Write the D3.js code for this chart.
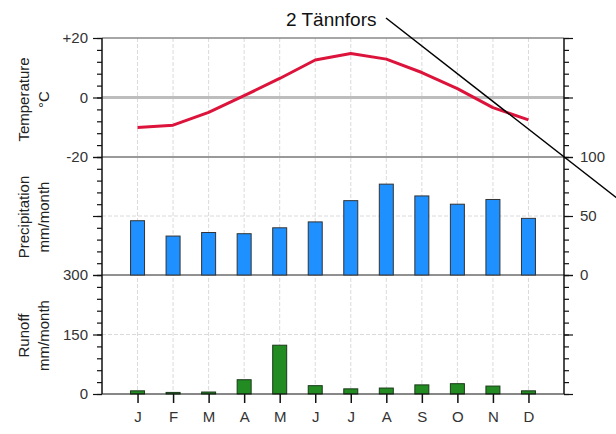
<!DOCTYPE html>
<html>
<head>
<meta charset="utf-8">
<script src="https://d3js.org/d3.v7.min.js"></script>
<style>
  body { margin: 0; background: white; }
  svg { display: block; font-family: Arial, 'Liberation Sans', sans-serif; }
  .tick text { font-size: 15px; fill: #333; }
</style>
</head>
<body>
<svg width="616" height="434"></svg>
<script>
// data
var months = ["J", "F", "M", "A", "M", "J", "J", "A", "S", "O", "N", "D"];
var temperature = [-10.1, -9.3, -5.0, 0.6, 6.4, 12.6, 14.8, 12.9, 8.4, 3.0, -3.4, -7.5];
var precipitation = [46, 33, 36, 35, 40, 45, 63, 77, 67, 60, 64, 48];
var runoff = [8, 4, 5, 36, 123, 21, 13, 15, 23, 26, 20, 8];
var tempTicks = [20, 0, -20];
var precipTicks = [100, 50, 0];
var runoffTicks = [300, 150, 0];

var left = 102, right = 564;
var svg = d3.select("svg");

var x = d3.scalePoint().domain(d3.range(12)).range([left, right]).padding(1);
var yT = d3.scaleLinear().domain([-20, 20]).range([157, 38]);
var yP = d3.scaleLinear().domain([0, 100]).range([275, 157]);
var yR = d3.scaleLinear().domain([0, 300]).range([394, 275]);

// vertical dashed grid
svg.append("g").selectAll("line")
    .data(d3.range(12))
    .enter().append("line")
    .attr("x1", function(d) { return x(d); })
    .attr("x2", function(d) { return x(d); })
    .attr("y1", 38).attr("y2", 394)
    .attr("stroke", "#dadada")
    .attr("stroke-dasharray", "4,2");

// horizontal dashed grid at mid values
[yP(50), yR(150)].forEach(function(yy) {
    svg.append("line")
        .attr("x1", left).attr("x2", right)
        .attr("y1", yy).attr("y2", yy)
        .attr("stroke", "#dadada")
        .attr("stroke-dasharray", "4,2");
});

// 0 degree line
svg.append("line")
    .attr("x1", left).attr("x2", right)
    .attr("y1", yT(0)).attr("y2", yT(0))
    .attr("stroke", "#bdbdbd").attr("stroke-width", 3);

// panel borders
svg.append("line").attr("x1", left).attr("x2", right).attr("y1", yT(20)).attr("y2", yT(20))
    .attr("stroke", "#888").attr("stroke-width", 1.5);
svg.append("line").attr("x1", left).attr("x2", right).attr("y1", yT(-20)).attr("y2", yT(-20))
    .attr("stroke", "#777").attr("stroke-width", 1.5);
svg.append("line").attr("x1", left).attr("x2", right).attr("y1", yP(0)).attr("y2", yP(0))
    .attr("stroke", "#222").attr("stroke-width", 1);

// precipitation bars
var bw = 14;
svg.append("g").selectAll("rect")
    .data(precipitation)
    .enter().append("rect")
    .attr("x", function(d, i) { return x(i) - bw / 2; })
    .attr("y", function(d) { return yP(d); })
    .attr("width", bw)
    .attr("height", function(d) { return yP(0) - yP(d); })
    .attr("fill", "#1e90ff")
    .attr("stroke", "#333").attr("stroke-width", 1);

// runoff bars
svg.append("g").selectAll("rect")
    .data(runoff)
    .enter().append("rect")
    .attr("x", function(d, i) { return x(i) - bw / 2; })
    .attr("y", function(d) { return yR(d); })
    .attr("width", bw)
    .attr("height", function(d) { return yR(0) - yR(d); })
    .attr("fill", "#228b22")
    .attr("stroke", "#1a3a1a").attr("stroke-width", 1);

// temperature line
var line = d3.line()
    .x(function(d, i) { return x(i); })
    .y(function(d) { return yT(d); });
svg.append("path")
    .datum(temperature)
    .attr("d", line)
    .attr("fill", "none")
    .attr("stroke", "#dc143c")
    .attr("stroke-width", 3)
    .attr("stroke-linejoin", "round");

// axes helper: minor ticks, then major ticks with labels
function panelAxis(scale, side, minorStep, majors, showLabels, fmt) {
    var d0 = scale.domain();
    var minors = d3.range(d0[0], d0[1] + minorStep / 2, minorStep);
    var xpos = side == "left" ? left : right;
    var mk = side == "left" ? d3.axisLeft : d3.axisRight;
    var gMinor = svg.append("g")
        .attr("transform", "translate(" + xpos + ",0)")
        .call(mk(scale).tickValues(minors).tickSize(5).tickFormat(""));
    gMinor.select(".domain").remove();
    var gMajor = svg.append("g")
        .attr("transform", "translate(" + xpos + ",0)")
        .call(mk(scale).tickValues(majors).tickSize(9)
            .tickPadding(side == "left" ? 5 : 7)
            .tickFormat(showLabels ? fmt : ""));
    gMajor.select(".domain").remove();
    svg.selectAll(".tick line").attr("stroke", "#111").attr("stroke-width", 1.2);
}

var fmtTemp = function(d) { return d > 0 ? "+" + d : d; };
panelAxis(yT, "left", 4, tempTicks, true, fmtTemp);
panelAxis(yP, "left", 10, precipTicks, false, null);
panelAxis(yR, "left", 30, runoffTicks, true, d3.format("d"));
panelAxis(yT, "right", 4, tempTicks, false, null);
panelAxis(yP, "right", 10, precipTicks, true, d3.format("d"));
panelAxis(yR, "right", 30, runoffTicks, false, null);

// vertical axis lines
[left, right].forEach(function(xx) {
    svg.append("line").attr("x1", xx).attr("x2", xx).attr("y1", 38).attr("y2", 394)
        .attr("stroke", "#111").attr("stroke-width", 1.5);
});

// bottom month axis
var xAxis = d3.axisBottom(x).tickSize(9).tickPadding(8)
    .tickFormat(function(d) { return months[d]; });
var gx = svg.append("g")
    .attr("transform", "translate(0,394)")
    .call(xAxis);
gx.select(".domain").remove();
gx.selectAll(".tick line").attr("stroke", "#111").attr("stroke-width", 1.5);
svg.append("line").attr("x1", left).attr("x2", right).attr("y1", 394).attr("y2", 394)
    .attr("stroke", "#111").attr("stroke-width", 1.2);

// axis titles
function yTitle(lines, cy) {
    var xs = [29, 49];
    lines.forEach(function(t, i) {
        svg.append("text")
            .attr("transform", "translate(" + xs[i] + "," + cy + ") rotate(-90)")
            .attr("text-anchor", "middle")
            .attr("font-size", 15)
            .attr("fill", "#222")
            .text(t);
    });
}
yTitle(["Temperature", "°C"], yT(0) + 2);
yTitle(["Precipitation", "mm/month"], yP(50) + 1);
yTitle(["Runoff", "mm/month"], yR(150) + 1);

// station title and pointer line
svg.append("text")
    .attr("x", 286).attr("y", 26)
    .attr("font-size", 19)
    .attr("fill", "#111")
    .text("2 Tännfors");
svg.append("line")
    .attr("x1", 386).attr("y1", 18)
    .attr("x2", 640).attr("y2", 18 + 0.78 * (640 - 386))
    .attr("stroke", "#000").attr("stroke-width", 1.5);
</script>
</body>
</html>
